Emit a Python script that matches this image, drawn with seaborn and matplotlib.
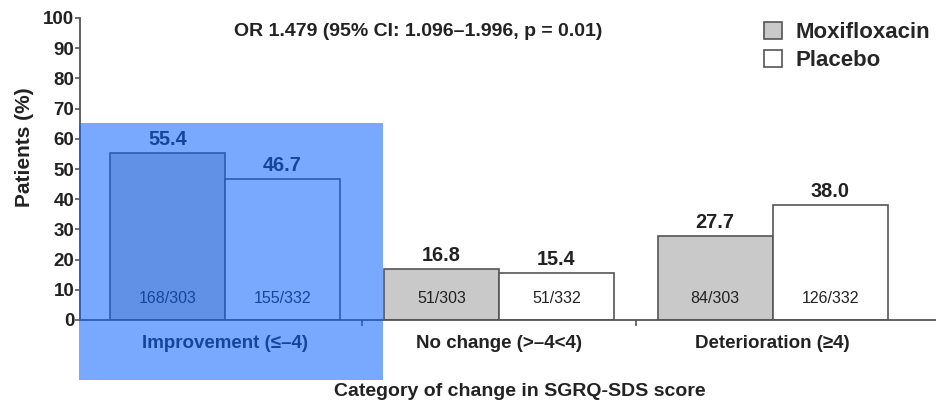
import pandas as pd
import seaborn as sns
import matplotlib
matplotlib.use("Agg")
import matplotlib.pyplot as plt
from matplotlib.patches import Rectangle, Patch

# Data
categories = ["Improvement (≤–4)", "No change (>–4<4)", "Deterioration (≥4)"]
groups = ["Moxifloxacin", "Placebo"]
moxifloxacin_pct = [55.4, 16.8, 27.7]
placebo_pct = [46.7, 15.4, 38.0]
moxifloxacin_n = ["168/303", "51/303", "84/303"]
placebo_n = ["155/332", "51/332", "126/332"]
y_ticks = list(range(0, 101, 10))

df = pd.DataFrame({
    "category": categories * 2,
    "group": [groups[0]] * 3 + [groups[1]] * 3,
    "pct": moxifloxacin_pct + placebo_pct,
})
counts = {groups[0]: moxifloxacin_n, groups[1]: placebo_n}

sns.set_theme(style="white")
plt.rcParams["font.family"] = ["Liberation Sans", "DejaVu Sans"]

EDGE = "#555555"
TEXT = "#222222"
colors = {"Moxifloxacin": "#c9c9c9", "Placebo": "#ffffff"}

fig = plt.figure(figsize=(9.37, 4), dpi=100)
ax = fig.add_axes([80 / 937, 80 / 400, 857 / 937, 302 / 400])

sns.barplot(data=df, x="category", y="pct", hue="group",
            order=categories, hue_order=groups, palette=colors,
            saturation=1, width=0.84, gap=0, edgecolor=EDGE,
            linewidth=1.2, legend=False, ax=ax)

# Value labels above bars and counts inside bars
for grp, cont in zip(groups, ax.containers):
    for bar, n in zip(cont, counts[grp]):
        cx = bar.get_x() + bar.get_width() / 2
        h = bar.get_height()
        ax.annotate(f"{h:.1f}", (cx, h), xytext=(0, 3), textcoords="offset points",
                    ha="center", va="bottom", fontsize=14.3, fontweight="bold",
                    color=TEXT)
        ax.text(cx, 7, n, ha="center", va="center", fontsize=11.5, color=TEXT)

ax.set_xlim(-0.53, 2.60)
ax.set_ylim(0, 100)
ax.set_yticks(y_ticks)
ax.set_yticklabels([str(v) for v in y_ticks], fontsize=13.5, fontweight="bold",
                   color=TEXT)

# Separator ticks between categories, labels centred under each group
ax.set_xticks([0.5, 1.5])
ax.set_xticklabels(["", ""])
ax.set_xticks([0, 1, 2], minor=True)
ax.set_xticklabels(categories, minor=True, fontsize=13.5, fontweight="bold",
                   color=TEXT)
ax.tick_params(axis="x", which="major", direction="out", length=4.3, width=1.2,
               color=EDGE, bottom=True)
ax.tick_params(axis="x", which="minor", length=0, pad=11)
ax.tick_params(axis="y", direction="out", length=3.5, width=1.2, color=EDGE,
               left=True, pad=0.5)
ax.set_xlabel("")
ax.set_ylabel("")

for side in ("top", "right"):
    ax.spines[side].set_visible(False)
for side in ("left", "bottom"):
    ax.spines[side].set_color(EDGE)
    ax.spines[side].set_linewidth(1.3)

fig.text(25 / 937, 1 - 147 / 400, "Patients (%)", rotation=90, ha="center",
         va="center", fontsize=15, fontweight="bold", color=TEXT)
fig.text(520 / 937, 1 - 396 / 400, "Category of change in SGRQ-SDS score",
         ha="center", va="baseline", fontsize=14, fontweight="bold", color=TEXT)
fig.text(418 / 937, 1 - 32 / 400, "OR 1.479 (95% CI: 1.096–1.996, p = 0.01)",
         ha="center", va="center", fontsize=14, fontweight="bold", color=TEXT)

handles = [Patch(facecolor=colors[g], edgecolor=EDGE, linewidth=1.2) for g in groups]
fig.legend(handles, groups, loc="upper left", bbox_to_anchor=(764 / 937, 1 - 22 / 400),
           frameon=False, prop={"weight": "bold", "size": 16},
           handlelength=0.8, handleheight=0.8, handletextpad=0.6, labelspacing=0.3,
           borderaxespad=0, borderpad=0)

# Translucent highlight over the first category
fig.add_artist(Rectangle((79 / 937, 20 / 400), 304 / 937, 257 / 400,
                         transform=fig.transFigure, facecolor=(0.04, 0.39, 1.0),
                         alpha=0.55, edgecolor="none", zorder=10))

fig.savefig("out.png", dpi=100)
